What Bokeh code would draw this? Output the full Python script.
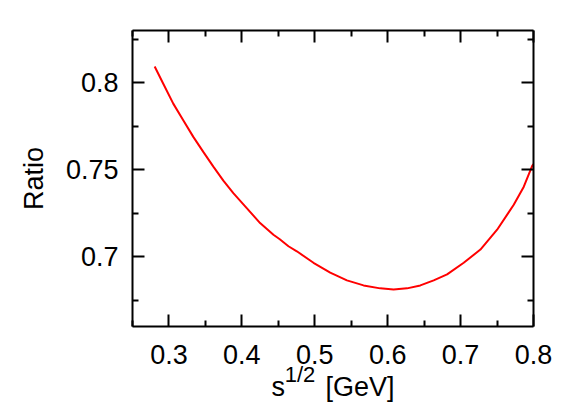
from bokeh.plotting import figure
from bokeh.models import LinearAxis, FixedTicker, CustomJSTickFormatter, Range1d
from bokeh.embed import file_html
from bokeh.resources import INLINE

# curve values
ratio_x = [0.2804, 0.2922, 0.3059, 0.3196, 0.3334, 0.3471, 0.3609, 0.3746,
           0.3883, 0.4067, 0.4250, 0.4433, 0.4520, 0.4639, 0.4754, 0.4982,
           0.5212, 0.5441, 0.5669, 0.5898, 0.6081, 0.6265, 0.6448, 0.6631,
           0.6815, 0.7043, 0.7272, 0.7501, 0.7729, 0.7867, 0.7982, 0.8000]
ratio_y = [0.8093, 0.7994, 0.7880, 0.7785, 0.7689, 0.7603, 0.7518, 0.7438,
           0.7366, 0.7280, 0.7194, 0.7127, 0.7101, 0.7061, 0.7032, 0.6966,
           0.6909, 0.6865, 0.6836, 0.6819, 0.6813, 0.6819, 0.6836, 0.6865,
           0.6899, 0.6966, 0.7042, 0.7156, 0.7299, 0.7403, 0.7522, 0.7532]

x_major = [0.3, 0.4, 0.5, 0.6, 0.7, 0.8]
x_minor = [0.25, 0.35, 0.45, 0.55, 0.65, 0.75]
y_major = [0.7, 0.75, 0.8]
y_minor = [0.675, 0.725, 0.775, 0.825]

y_title = "Ratio"
x_title_sup = "1/2\u2003\u2003\u2003"      # superscript, shifted left by trailing spaces
x_title_main = "s\u2003\u2002[GeV]"

FONT = "Liberation Sans"

p = figure(width=581, height=404, output_backend="svg", toolbar_location=None,
           x_range=Range1d(0.25, 0.8), y_range=Range1d(0.66, 0.83),
           x_axis_location=None, y_axis_location=None,
           min_border_left=132, min_border_right=48, min_border_top=30,
           min_border_bottom=78)
p.grid.visible = False
p.outline_line_color = None
p.background_fill_color = "white"
p.border_fill_color = "white"

fmt = CustomJSTickFormatter(code="return String(Math.round(tick*1000)/1000);")
blank = CustomJSTickFormatter(code="return '';")


def style(ax, labels):
    ax.axis_line_width = 2
    ax.axis_line_color = "black"
    ax.major_tick_line_width = 2
    ax.minor_tick_line_width = 2
    ax.major_tick_in = 12
    ax.major_tick_out = 0
    ax.minor_tick_in = 6
    ax.minor_tick_out = 0
    ax.major_label_text_font = FONT
    ax.major_label_text_font_size = "27px"
    ax.major_label_text_color = "black"
    ax.axis_label_text_font = FONT
    ax.axis_label_text_font_style = "normal"
    ax.axis_label_text_color = "black"
    ax.formatter = fmt if labels else blank


xt = FixedTicker(ticks=x_major, minor_ticks=x_minor)
yt = FixedTicker(ticks=y_major, minor_ticks=y_minor)

bottom = LinearAxis(ticker=xt)
style(bottom, True)
bottom.major_label_standoff = 18
bottom.axis_label = x_title_sup
bottom.axis_label_text_font_size = "22px"
bottom.axis_label_standoff = -5
p.add_layout(bottom, "below")

bottom2 = LinearAxis(ticker=xt)
style(bottom2, False)
bottom2.axis_line_color = None
bottom2.major_tick_line_color = None
bottom2.minor_tick_line_color = None
bottom2.major_tick_in = 0
bottom2.minor_tick_in = 0
bottom2.major_label_text_font_size = "0px"
bottom2.major_label_standoff = 0
bottom2.axis_label = x_title_main
bottom2.axis_label_text_font_size = "27px"
bottom2.axis_label_standoff = -18
p.add_layout(bottom2, "below")

top = LinearAxis(ticker=xt)
style(top, False)
p.add_layout(top, "above")

left = LinearAxis(ticker=yt)
style(left, True)
left.major_label_standoff = 14
left.axis_label = y_title
left.axis_label_text_font_size = "27px"
left.axis_label_standoff = 14
p.add_layout(left, "left")

right = LinearAxis(ticker=yt)
style(right, False)
p.add_layout(right, "right")

p.line(ratio_x, ratio_y, line_color="#ff0000", line_width=2)

open("out.html", "w").write(file_html(p, INLINE))
